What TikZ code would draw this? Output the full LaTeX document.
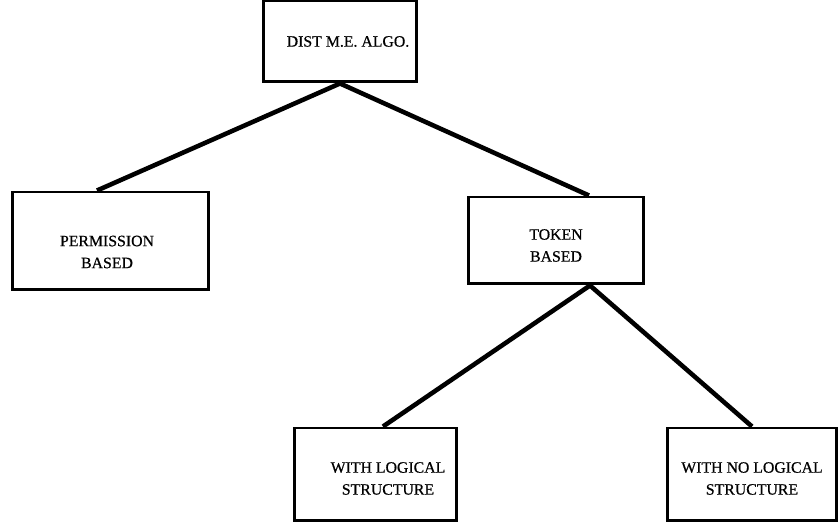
\documentclass[tikz,border=0pt]{standalone}
\usepackage{fontspec}
\setmainfont[FakeBold=0.6]{Liberation Serif}
\usetikzlibrary{positioning}

\begin{document}
\begin{tikzpicture}[x=0.02cm, y=-0.02cm,
  box/.style={draw, line width=1.7pt, inner sep=0pt},
  txt/.style={font=\fontsize{9}{12.5}\selectfont, align=center, inner sep=0pt},
  link/.style={line width=2.6pt}]
\useasboundingbox (0,0) rectangle (840,523);
\node[box, minimum width=3.08cm, minimum height=1.62cm,
  label={[txt, xshift=0.16cm]center:DIST M.E. ALGO.}] (dist) at (340,41.5) {};
\node[box, minimum width=3.94cm, minimum height=1.96cm,
  label={[txt, xshift=-0.07cm, yshift=-0.22cm]center:PERMISSION\\BASED}] (perm) at (110.5,241) {};
\node[box, minimum width=3.52cm, minimum height=1.74cm,
  label={[txt, yshift=-0.1cm]center:TOKEN\\BASED}] (token) at (556,240.5) {};
\node[box, minimum width=3.26cm, minimum height=1.86cm,
  label={[txt, xshift=0.25cm, yshift=-0.08cm]center:WITH LOGICAL\\STRUCTURE}] (wlog) at (375.5,474.5) {};
\node[box, minimum width=3.40cm, minimum height=1.86cm,
  label={[txt, yshift=-0.08cm]center:WITH NO LOGICAL\\STRUCTURE}] (wnolog) at (752,474.5) {};
\coordinate (tb) at ([xshift=0.68cm]token.south);
\draw[link] (dist.south) -- ([xshift=-0.27cm]perm.north);
\draw[link] (dist.south) -- ([xshift=0.66cm]token.north);
\draw[link] (tb) -- ([xshift=0.15cm]wlog.north);
\draw[link] (tb) -- (wnolog.north);
\end{tikzpicture}
\end{document}
